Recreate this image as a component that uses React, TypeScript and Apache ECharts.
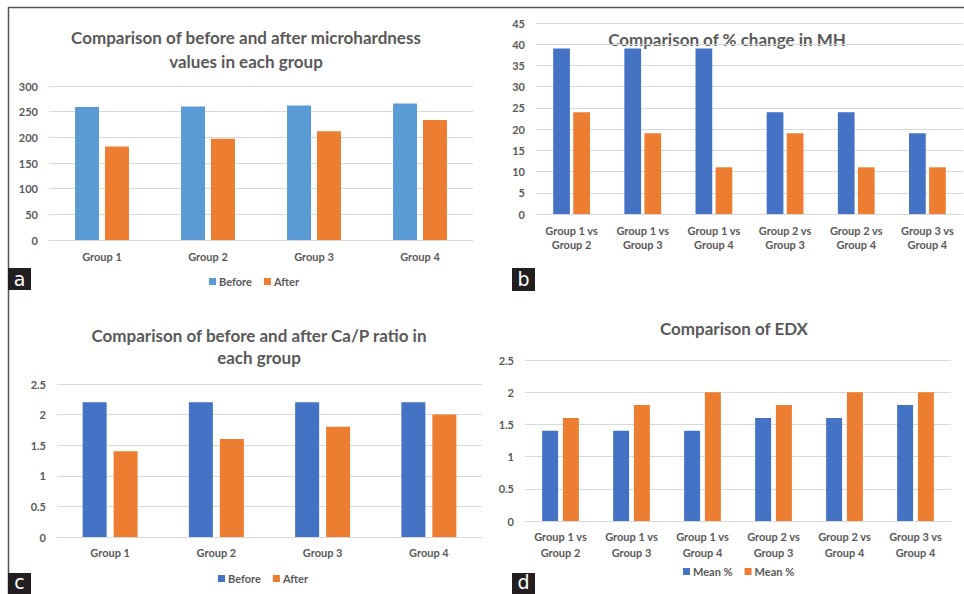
import React, { useEffect, useRef } from "react";
import * as echarts from "echarts";

const groupCats = ["Group 1", "Group 2", "Group 3", "Group 4"];
const pairCats = [
  "Group 1 vs\nGroup 2",
  "Group 1 vs\nGroup 3",
  "Group 1 vs\nGroup 4",
  "Group 2 vs\nGroup 3",
  "Group 2 vs\nGroup 4",
  "Group 3 vs\nGroup 4",
];
const mhBefore = [259, 260, 262, 266];
const mhAfter = [182, 197, 212, 234];
const mhChangeBlue = [39, 39, 39, 24, 24, 19];
const mhChangeOrange = [24, 19, 11, 19, 11, 11];
const caPBefore = [2.2, 2.2, 2.2, 2.2];
const caPAfter = [1.4, 1.6, 1.8, 2.0];
const edxBlue = [1.4, 1.4, 1.4, 1.6, 1.6, 1.8];
const edxOrange = [1.6, 1.8, 2.0, 1.8, 2.0, 2.0];

const titleA = ["Comparison of before and after microhardness", "values in each group"];
const titleB = ["Comparison of % change in MH"];
const titleC = ["Comparison of before and after Ca/P ratio in", "each group"];
const titleD = ["Comparison of EDX"];
const legendBA = ["Before", "After"];
const legendMean = ["Mean %", "Mean %"];

const FONT = "Lato, 'Open Sans', sans-serif";
const GRAY = "#595959";
const GRID = "#d9d9d9";
const LBLUE = "#5B9BD5";
const BLUE = "#4472C4";
const ORANGE = "#ED7D31";

export default function App() {
  const ref = useRef<HTMLDivElement>(null);
  useEffect(() => {
    if (!ref.current) return;
    const chart = echarts.init(ref.current, null, { renderer: "svg" });

    const grids = [
      { left: 49, top: 86, width: 424, height: 154 },
      { left: 536, top: 23, width: 427, height: 191 },
      { left: 57, top: 384, width: 425, height: 153 },
      { left: 525, top: 360, width: 426, height: 161 },
    ];
    const xCats = [groupCats, pairCats, groupCats, pairCats];
    const xMargins = [10, 10, 9, 8];
    const xLineH = [13, 13.5, 13, 15.5];
    const yMax = [300, 45, 2.5, 2.5];
    const yInt = [50, 5, 0.5, 0.5];

    const xAxis = grids.map((_, i) => ({
      type: "category",
      gridIndex: i,
      data: xCats[i],
      axisLine: { lineStyle: { color: GRID, width: 1 } },
      axisTick: { show: false },
      axisLabel: {
        color: GRAY,
        fontFamily: FONT,
        fontWeight: "bold",
        fontSize: 11,
        margin: xMargins[i],
        lineHeight: xLineH[i],
        interval: 0,
      },
    }));
    const yAxis = grids.map((_, i) => ({
      type: "value",
      gridIndex: i,
      min: 0,
      max: yMax[i],
      interval: yInt[i],
      axisLine: { show: false },
      axisTick: { show: false },
      splitLine: { lineStyle: { color: GRID, width: 1 } },
      axisLabel: {
        color: GRAY,
        fontFamily: FONT,
        fontWeight: "bold",
        fontSize: 11,
        margin: 11,
      },
    }));

    const mk = (name: string, idx: number, data: number[], color: string, bw: string, gap: string) => ({
      name,
      type: "bar",
      xAxisIndex: idx,
      yAxisIndex: idx,
      data,
      barWidth: bw,
      barGap: gap,
      itemStyle: { color },
      emphasis: { disabled: true },
    });

    const series = [
      mk("a|" + legendBA[0], 0, mhBefore, LBLUE, "22.6%", "25%"),
      mk("a|" + legendBA[1], 0, mhAfter, ORANGE, "22.6%", "25%"),
      mk("b|1", 1, mhChangeBlue, BLUE, "23.5%", "20%"),
      mk("b|2", 1, mhChangeOrange, ORANGE, "23.5%", "20%"),
      mk("c|" + legendBA[0], 2, caPBefore, BLUE, "22.6%", "29%"),
      mk("c|" + legendBA[1], 2, caPAfter, ORANGE, "22.6%", "29%"),
      mk("d|" + legendMean[0] + "|1", 3, edxBlue, BLUE, "22.5%", "30%"),
      mk("d|" + legendMean[1] + "|2", 3, edxOrange, ORANGE, "22.5%", "30%"),
    ];

    const legendBase = {
      orient: "horizontal",
      icon: "rect",
      itemWidth: 7,
      itemHeight: 7,
      itemGap: 12,
      selectedMode: false,
      formatter: (n: string) => n.split("|")[1],
      textStyle: { color: GRAY, fontFamily: FONT, fontWeight: "bold", fontSize: 11, padding: [0, 0, 0, -2] },
      padding: 0,
    };
    const legend = [
      { ...legendBase, left: 209, top: 276, data: ["a|Before", "a|After"] },
      { ...legendBase, left: 218, top: 573, data: ["c|Before", "c|After"] },
      { ...legendBase, left: 683, top: 566, data: ["d|Mean %|1", "d|Mean %|2"] },
    ];

    const titleEls: any[] = [];
    const addTitle = (lines: string[], cx: number, y0: number, lh: number, size: number) => {
      lines.forEach((t, k) => {
        titleEls.push({
          type: "text",
          x: cx,
          y: y0 + k * lh,
          silent: true,
          style: {
            text: t,
            fill: GRAY,
            font: `bold ${size}px ${FONT}`,
            textAlign: "center",
            textVerticalAlign: "middle",
          },
        });
      });
    };
    addTitle(titleA, 246, 37, 24, 17);
    addTitle(titleB, 727, 39, 24, 17);
    addTitle(titleC, 259, 335, 22.5, 17);
    addTitle(titleD, 734, 328, 24, 17);

    const labelBox = (ch: string, x: number, y: number, h: number, ty: number) => [
      { type: "rect", shape: { x, y, width: 23, height: h }, style: { fill: "#231f20" }, silent: true },
      {
        type: "text",
        x: x + 11.5,
        y: ty,
        silent: true,
        style: {
          text: ch,
          fill: "#ffffff",
          font: `19px 'DejaVu Sans', sans-serif`,
          textAlign: "center",
          textVerticalAlign: "middle",
        },
      },
    ];

    const graphic = [
      { type: "line", shape: { x1: 8, y1: 7.5, x2: 964, y2: 7.5 }, style: { stroke: "#555", lineWidth: 1.5 }, silent: true },
      { type: "line", shape: { x1: 8.5, y1: 7, x2: 8.5, y2: 594 }, style: { stroke: "#555", lineWidth: 1.5 }, silent: true },
      ...titleEls,
      ...labelBox("a", 8, 268, 22, 279),
      ...labelBox("b", 512, 268, 23, 279),
      ...labelBox("c", 8, 573, 21, 582),
      ...labelBox("d", 512, 573, 21, 582),
    ];

    chart.setOption({
      animation: false,
      backgroundColor: "#ffffff",
      grid: grids,
      xAxis,
      yAxis,
      series,
      legend,
      graphic,
    });
    return () => chart.dispose();
  }, []);
  return (
    <div
      ref={ref}
      style={{ position: "absolute", left: 0, top: 0, width: 964, height: 594 }}
    />
  );
}
